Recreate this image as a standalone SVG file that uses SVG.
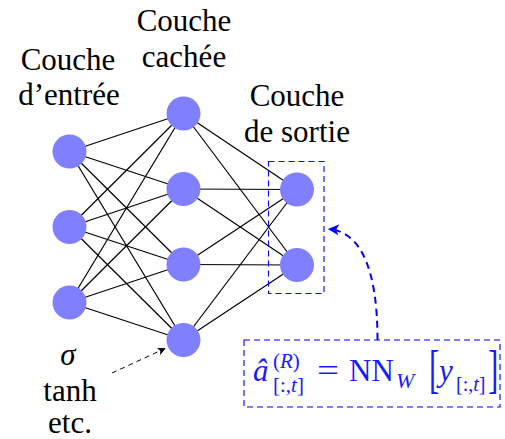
<svg xmlns="http://www.w3.org/2000/svg" width="505" height="439" viewBox="0 0 505 439" font-family="Liberation Serif, serif">
  <style>
    .lbl { font-size: 31px; fill: #000; text-anchor: middle; }
    .node { fill: #8080ff; }
    .edge { stroke: #000; stroke-width: 1.2; fill: none; }
    .math { fill: #1a1aff; }
    .it { font-style: italic; }
  </style>
  <defs>
    <marker id="ahBlue" viewBox="0 0 10 10" refX="9" refY="5" markerWidth="5.5" markerHeight="5.5" orient="auto" markerUnits="strokeWidth">
      <path d="M0,0 L10,5 L0,10 L2.5,5 Z" fill="#0000ff"/>
    </marker>
    <marker id="ahBlack" viewBox="0 0 10 10" refX="9" refY="5" markerWidth="8" markerHeight="8" orient="auto" markerUnits="strokeWidth">
      <path d="M0,0 L10,5 L0,10 L2.5,5 Z" fill="#000"/>
    </marker>
  </defs>
  <rect width="505" height="439" fill="#fff"/>

  <g id="connectors">
    <g class="edge">
      <line x1="69.5" y1="151.5" x2="183.5" y2="113.5"/>
      <line x1="69.5" y1="151.5" x2="183.5" y2="189"/>
      <line x1="69.5" y1="151.5" x2="183.5" y2="264.5"/>
      <line x1="69.5" y1="151.5" x2="183.5" y2="340"/>
      <line x1="69.5" y1="227" x2="183.5" y2="113.5"/>
      <line x1="69.5" y1="227" x2="183.5" y2="189"/>
      <line x1="69.5" y1="227" x2="183.5" y2="264.5"/>
      <line x1="69.5" y1="227" x2="183.5" y2="340"/>
      <line x1="69.5" y1="302.5" x2="183.5" y2="113.5"/>
      <line x1="69.5" y1="302.5" x2="183.5" y2="189"/>
      <line x1="69.5" y1="302.5" x2="183.5" y2="264.5"/>
      <line x1="69.5" y1="302.5" x2="183.5" y2="340"/>
      <line x1="183.5" y1="113.5" x2="297" y2="189.5"/>
      <line x1="183.5" y1="113.5" x2="297" y2="265"/>
      <line x1="183.5" y1="189" x2="297" y2="189.5"/>
      <line x1="183.5" y1="189" x2="297" y2="265"/>
      <line x1="183.5" y1="264.5" x2="297" y2="189.5"/>
      <line x1="183.5" y1="264.5" x2="297" y2="265"/>
      <line x1="183.5" y1="340" x2="297" y2="189.5"/>
      <line x1="183.5" y1="340" x2="297" y2="265"/>
    </g>
    <line x1="112" y1="373" x2="165" y2="348.5" stroke="#000" stroke-width="1" stroke-dasharray="5,4" marker-end="url(#ahBlack)"/>
    <path d="M377.5,340 C377.5,272 362,232 329,229" fill="none" stroke="#0000ff" stroke-width="2" stroke-dasharray="7,5" marker-end="url(#ahBlue)"/>
  </g>

  <g id="input-layer">
    <circle id="in1" class="node" cx="69.5" cy="151.5" r="17"/>
    <circle id="in2" class="node" cx="69.5" cy="227" r="17"/>
    <circle id="in3" class="node" cx="69.5" cy="302.5" r="17"/>
    <text class="lbl" x="68" y="70" font-family="Liberation Serif, serif">Couche</text>
    <text class="lbl" x="69" y="105" font-family="Liberation Serif, serif">d’entrée</text>
  </g>

  <g id="hidden-layer">
    <circle id="h1" class="node" cx="183.5" cy="113.5" r="17"/>
    <circle id="h2" class="node" cx="183.5" cy="189" r="17"/>
    <circle id="h3" class="node" cx="183.5" cy="264.5" r="17"/>
    <circle id="h4" class="node" cx="183.5" cy="340" r="17"/>
    <text class="lbl" x="184" y="31" font-family="Liberation Serif, serif">Couche</text>
    <text class="lbl" x="184" y="67" font-family="Liberation Serif, serif">cachée</text>
  </g>

  <g id="output-layer">
    <circle id="o1" class="node" cx="297" cy="189.5" r="17"/>
    <circle id="o2" class="node" cx="297" cy="265" r="17"/>
    <rect x="268.5" y="161.5" width="55.5" height="132" fill="none" stroke="#0000ff" stroke-width="1.1" stroke-dasharray="6,4"/>
    <text class="lbl" x="297" y="106" font-family="Liberation Serif, serif">Couche</text>
    <text class="lbl" x="297" y="142" font-family="Liberation Serif, serif">de sortie</text>
  </g>

  <g id="activation">
    <text class="lbl" x="68" y="365" font-style="italic" font-family="Liberation Serif, serif">σ</text>
    <text class="lbl" x="70" y="401" font-family="Liberation Serif, serif">tanh</text>
    <text class="lbl" x="70" y="433" font-family="Liberation Serif, serif">etc.</text>
  </g>

  <g id="formula" font-family="Liberation Serif, serif">
    <rect x="244" y="340" width="256" height="67" fill="none" stroke="#0000ff" stroke-width="1.1" stroke-dasharray="6,4"/>
    <text class="math it" x="253" y="381" font-size="31">â</text>
    <text class="math" x="273" y="368" font-size="21">(<tspan class="it">R</tspan>)</text>
    <text class="math" x="273" y="392" font-size="21">[:,<tspan class="it">t</tspan>]</text>
    <text class="math" x="317" y="381" font-size="31" textLength="22" lengthAdjust="spacingAndGlyphs">=</text>
    <text class="math" x="349" y="381" font-size="31">NN</text>
    <text class="math it" x="396" y="388" font-size="22">W</text>
    <text class="math" transform="translate(429,386.5) scale(1,1.7)" font-size="31">[</text>
    <text class="math it" x="439" y="381" font-size="31">y</text>
    <text class="math" x="456" y="391" font-size="20">[:,<tspan class="it">t</tspan>]</text>
    <text class="math" transform="translate(488,386.5) scale(1,1.7)" font-size="31">]</text>
  </g>
</svg>
